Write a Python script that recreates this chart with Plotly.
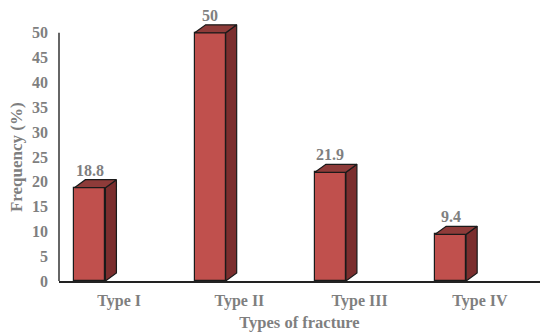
import plotly.graph_objects as go

# Fracture types and their frequencies (%)
categories = ["Type I", "Type II", "Type III", "Type IV"]
frequency = [18.8, 50, 21.9, 9.4]
y_ticks = [0, 5, 10, 15, 20, 25, 30, 35, 40, 45, 50]
y_axis_max = 50

FRONT = "#C0504D"
SIDE = "#7B2E2E"
TOP = "#8E3B39"
EDGE = "#1a1a1a"
TEXT = "#7f7f7f"
FONT = "Times New Roman, Liberation Serif, serif"

bar_offset = -0.372   # left edge of the front face relative to the category
bar_width = 0.258     # width of the front face (category units)
depth_x = 0.0915      # 3D depth along x (category units)
depth_y = 1.61        # 3D depth along y (data units)

xs = list(range(len(categories)))

fig = go.Figure()

# side and top faces of the pseudo-3D columns
side_x, side_y, top_x, top_y = [], [], [], []
for x, v in zip(xs, frequency):
    x0 = x + bar_offset
    x1 = x0 + bar_width
    side_x += [x1, x1 + depth_x, x1 + depth_x, x1, x1, None]
    side_y += [0, depth_y, v + depth_y, v, 0, None]
    top_x += [x0, x0 + depth_x, x1 + depth_x, x1, x0, None]
    top_y += [v, v + depth_y, v + depth_y, v, v, None]

fig.add_trace(go.Scatter(
    x=side_x, y=side_y, mode="lines", fill="toself", fillcolor=SIDE,
    line=dict(color=EDGE, width=1.2), hoverinfo="skip", showlegend=False,
))
fig.add_trace(go.Scatter(
    x=top_x, y=top_y, mode="lines", fill="toself", fillcolor=TOP,
    line=dict(color=EDGE, width=1.2), hoverinfo="skip", showlegend=False,
))

# front faces
fig.add_trace(go.Bar(
    x=xs, y=frequency, offset=bar_offset, width=bar_width,
    marker=dict(color=FRONT, line=dict(color=EDGE, width=1.2)),
    showlegend=False,
))

# value labels above each column
for x, v in zip(xs, frequency):
    fig.add_annotation(
        x=x + bar_offset + bar_width / 2, y=v + depth_y,
        text=f"{v:g}", showarrow=False, yanchor="bottom", yshift=-1,
        font=dict(family=FONT, size=16, color=TEXT, weight="bold"),
    )

# vertical axis title, centred on the 0-50 span
fig.add_annotation(
    xref="paper", yref="paper", x=-0.0894, y=0.454,
    text="Frequency (%)", textangle=-90, showarrow=False,
    xanchor="center", yanchor="middle",
    font=dict(family=FONT, size=17, color=TEXT, weight="bold"),
)

# vertical axis line stops at the last tick
fig.add_shape(
    type="line", xref="paper", yref="y", x0=0, x1=0, y0=0, y1=y_axis_max,
    line=dict(color="#333333", width=1.5),
)

fig.update_layout(
    width=540, height=332,
    margin=dict(l=59, r=0, t=8, b=51),
    paper_bgcolor="white", plot_bgcolor="white",
    bargap=0,
    xaxis=dict(
        range=[-0.5, 3.5], tickvals=xs, ticktext=categories,
        showgrid=False, zeroline=False, showline=True,
        linecolor="#222222", linewidth=1.5, ticks="",
        ticklabelstandoff=4,
        tickfont=dict(family=FONT, size=16, color=TEXT, weight="bold"),
        title=dict(text="Types of fracture", standoff=10,
                   font=dict(family=FONT, size=16.5, color=TEXT, weight="bold")),
    ),
    yaxis=dict(
        range=[0, 55], tickvals=y_ticks,
        showgrid=False, zeroline=False, showline=False, ticks="",
        ticklabelstandoff=10,
        tickfont=dict(family=FONT, size=16, color=TEXT, weight="bold"),
    ),
)

fig.write_html("out.html")
